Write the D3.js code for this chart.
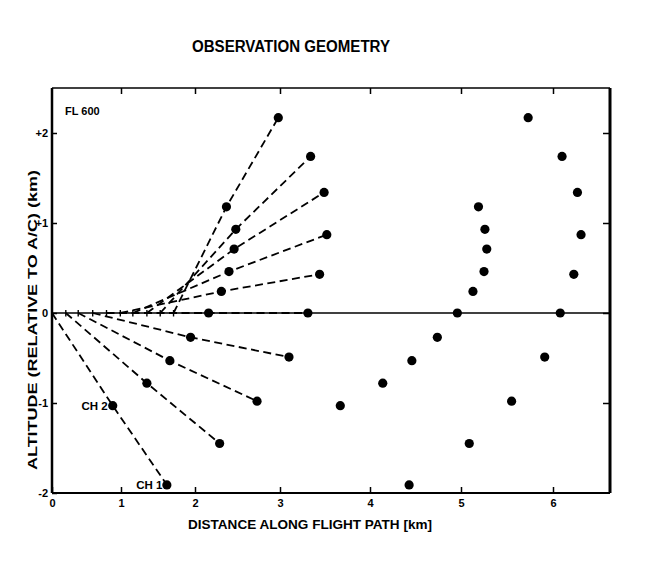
<!DOCTYPE html>
<html>
<head>
<meta charset="utf-8">
<script src="https://cdn.jsdelivr.net/npm/d3@7"></script>
<style>
  body { margin: 0; background: #fff; }
  text { font-family: "Liberation Sans", Arial, sans-serif; font-weight: bold; fill: #000; }
</style>
</head>
<body>
<div id="chart"></div>
<script>
// rays ordered from the highest (top) to the lowest (CH 1)
var rayStart = [1.71, 1.53, 1.35, 1.16, 0.99, 0.79, 0.59, 0.38, 0.20, 0.00]
var nearX    = [2.37, 2.48, 2.46, 2.40, 2.31, 2.16, 1.94, 1.66, 1.35, 0.88]
var nearAlt  = [1.18, 0.93, 0.71, 0.46, 0.24, 0.00, -0.27, -0.53, -0.78, -1.03]
var farX     = [2.98, 3.34, 3.49, 3.52, 3.44, 3.31, 3.10, 2.73, 2.29, 1.62]
var farAlt   = [2.17, 1.74, 1.34, 0.87, 0.43, 0.00, -0.49, -0.98, -1.45, -1.91]
// second set of points, same altitudes, further along the path
var innerX   = [5.19, 5.26, 5.28, 5.25, 5.13, 4.96, 4.74, 4.46, 4.14, 3.67]
var outerX   = [5.73, 6.10, 6.27, 6.31, 6.23, 6.08, 5.91, 5.55, 5.09, 4.43]

var xTicks = [0, 1, 2, 3, 4, 5, 6]
var yTicks = [-2, -1, 0, 1, 2]

var W = 648, H = 569
var margin = {top: 88, right: 38, bottom: 76, left: 52},
    width = W - margin.left - margin.right,
    height = H - margin.top - margin.bottom;

var svg = d3.select("#chart")
  .append("svg")
    .attr("width", W)
    .attr("height", H)
  .append("g")
    .attr("transform", "translate(" + margin.left + "," + margin.top + ")");

// the original axis is not evenly spaced, so map every unit separately
var x = d3.scaleLinear()
  .domain([0, 1, 2, 3, 4, 5, 6, 6.63])
  .range([0, 69, 143, 228, 318, 409, 501, width]);
var y = d3.scaleLinear()
  .domain([-2, 2.5])
  .range([height, 0]);

// axes (ticks point inwards)
svg.append("g")
  .attr("transform", "translate(0," + height + ")")
  .call(d3.axisBottom(x).tickValues(xTicks).tickSize(-6).tickPadding(6).tickFormat(d3.format("d")))
svg.append("g")
  .call(d3.axisTop(x).tickValues(xTicks.slice(1)).tickSize(-6).tickFormat(""))
svg.append("g")
  .call(d3.axisLeft(y).tickValues(yTicks).tickSize(-5).tickPadding(4)
    .tickFormat(function(d) { return d > 0 ? "+" + d : d == 0 ? "0" : "-" + (-d); }))
svg.append("g")
  .attr("transform", "translate(" + width + ",0)")
  .call(d3.axisRight(y).tickValues(yTicks.slice(1)).tickSize(-7).tickFormat(""))

svg.selectAll(".domain").remove()
svg.selectAll(".tick line").attr("stroke", "#000").attr("stroke-width", 1.5)
svg.selectAll(".tick text")
  .style("font-size", "11px")
  .style("font-family", '"Liberation Sans", Arial, sans-serif')
  .style("font-weight", "bold")
  .attr("fill", "#000")

// frame
svg.append("line").attr("x1", 0).attr("x2", width).attr("y1", 0).attr("y2", 0)
  .attr("stroke", "#000").attr("stroke-width", 1.5)
svg.append("line").attr("x1", 0).attr("x2", width).attr("y1", height).attr("y2", height)
  .attr("stroke", "#000").attr("stroke-width", 2)
svg.append("line").attr("x1", 0).attr("x2", 0).attr("y1", 0).attr("y2", height)
  .attr("stroke", "#000").attr("stroke-width", 2.5)
svg.append("line").attr("x1", width).attr("x2", width).attr("y1", 0).attr("y2", height)
  .attr("stroke", "#000").attr("stroke-width", 3)

// flight level line
svg.append("line")
  .attr("x1", x(0)).attr("x2", x(6.63))
  .attr("y1", y(0)).attr("y2", y(0))
  .attr("stroke", "#000").attr("stroke-width", 1.6)

// little marks where the rays leave the line
svg.selectAll("startmark")
  .data(rayStart.filter(function(d) { return d > 0; }))
  .enter()
  .append("line")
    .attr("x1", function(d) { return x(d); })
    .attr("x2", function(d) { return x(d); })
    .attr("y1", y(0) - 3)
    .attr("y2", y(0) + 3.5)
    .attr("stroke", "#000")
    .attr("stroke-width", 1.4)

// dashed rays
var line = d3.line()
  .x(function(d) { return x(d[0]); })
  .y(function(d) { return y(d[1]); })

svg.selectAll("ray")
  .data(rayStart.map(function(s, i) {
    return [[s, 0], [nearX[i], nearAlt[i]], [farX[i], farAlt[i]]];
  }))
  .enter()
  .append("path")
    .attr("d", line)
    .attr("fill", "none")
    .attr("stroke", "#000")
    .attr("stroke-width", 1.8)
    .attr("stroke-dasharray", "8,4.5")

// dots
var dots = []
for (var i = 0; i < rayStart.length; i++) {
  dots.push([nearX[i], nearAlt[i]], [farX[i], farAlt[i]], [innerX[i], nearAlt[i]], [outerX[i], farAlt[i]])
}
svg.selectAll("dot")
  .data(dots)
  .enter()
  .append("circle")
    .attr("cx", function(d) { return x(d[0]); })
    .attr("cy", function(d) { return y(d[1]); })
    .attr("r", 4.6)
    .attr("fill", "#000")

// labels
svg.append("text")
  .attr("x", x(0) + 13)
  .attr("y", y(2.5) + 27)
  .style("font-size", "11px")
  .text("FL 600")
svg.append("text")
  .attr("x", x(nearX[9]) - 5)
  .attr("y", y(nearAlt[9]) + 4)
  .attr("text-anchor", "end")
  .style("font-size", "11.5px")
  .text("CH 2")
svg.append("text")
  .attr("x", x(farX[9]) - 4.5)
  .attr("y", y(farAlt[9]) + 4)
  .attr("text-anchor", "end")
  .style("font-size", "11.5px")
  .text("CH 1")

// titles
svg.append("text")
  .attr("x", 140)
  .attr("y", -36)
  .attr("textLength", 198)
  .attr("lengthAdjust", "spacingAndGlyphs")
  .style("font-size", "16px")
  .text("OBSERVATION GEOMETRY")
svg.append("text")
  .attr("x", 136)
  .attr("y", height + 36)
  .attr("textLength", 244)
  .attr("lengthAdjust", "spacingAndGlyphs")
  .style("font-size", "12.5px")
  .text("DISTANCE ALONG FLIGHT PATH [km]")
svg.append("text")
  .attr("transform", "translate(-15," + (y(0) + 7) + ") rotate(-90)")
  .attr("text-anchor", "middle")
  .attr("textLength", 300)
  .attr("lengthAdjust", "spacingAndGlyphs")
  .style("font-size", "12px")
  .text("ALTITUDE (RELATIVE TO A/C) (km)")
</script>
</body>
</html>
